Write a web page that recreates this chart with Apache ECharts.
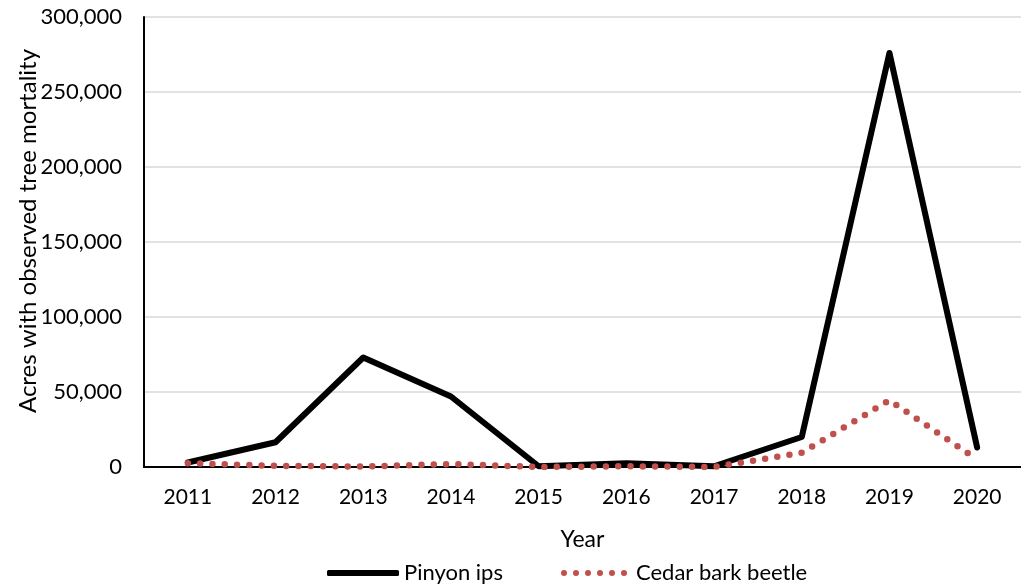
<!DOCTYPE html>
<html>
<head>
<meta charset="utf-8">
<script src="https://cdn.jsdelivr.net/npm/echarts@6/dist/echarts.min.js"></script>
<style>
  html, body { margin: 0; padding: 0; background: #fff; }
  #main { width: 1021px; height: 588px; }
</style>
</head>
<body>
<div id="main"></div>
<script>
// data
var years = ['2011', '2012', '2013', '2014', '2015', '2016', '2017', '2018', '2019', '2020'];
var pinyonIps = [3000, 16500, 73000, 47000, 500, 2500, 500, 20000, 276000, 13000];
var cedarBarkBeetle = [2500, 800, 300, 2000, 0, 500, 0, 9500, 44500, 5000];
var yTicks = [0, 50000, 100000, 150000, 200000, 250000, 300000];

var font = 'Lato';
var red = '#c0504d';

// six round dots for the dotted legend key
var dotsPath = 'path://';
for (var i = 0; i < 6; i++) {
  dotsPath += 'M' + (12 * i) + ',3a3,3 0 1,0 6,0a3,3 0 1,0 -6,0Z';
}

var myChart = echarts.init(document.getElementById('main'));
var option = {
  animation: false,
  textStyle: { fontFamily: font },
  grid: { left: 144, width: 883, top: 17, bottom: 121 },
  legend: [
    {
      top: 557,
      left: 322,
      itemWidth: 72,
      itemHeight: 6,
      icon: 'roundRect',
      textStyle: { fontSize: 22, color: '#000', fontFamily: font },
      data: ['Pinyon ips']
    },
    {
      top: 557,
      left: 556,
      itemWidth: 66,
      itemHeight: 6,
      icon: dotsPath,
      textStyle: { fontSize: 22, color: '#000', fontFamily: font, padding: [0, 0, 0, 4] },
      data: ['Cedar bark beetle']
    }
  ],
  graphic: [
    {
      type: 'text',
      x: 28, y: 231,
      rotation: Math.PI / 2,
      style: {
        text: 'Acres with observed tree mortality',
        fontSize: 24, fontFamily: font, fill: '#000',
        align: 'center', verticalAlign: 'middle'
      }
    }
  ],
  xAxis: {
    type: 'category',
    data: years,
    name: 'Year',
    nameLocation: 'middle',
    nameGap: 61,
    nameTextStyle: { fontSize: 23, color: '#000' },
    axisLine: { lineStyle: { color: '#000', width: 2 } },
    axisTick: { show: false },
    axisLabel: { fontSize: 21, color: '#000', margin: 20 }
  },
  yAxis: {
    type: 'value',
    min: yTicks[0],
    max: yTicks[yTicks.length - 1],
    interval: 50000,
    axisLine: { show: true, lineStyle: { color: '#000', width: 2 } },
    axisTick: { show: false },
    splitLine: { lineStyle: { color: '#d9d9d9', width: 1.5 } },
    axisLabel: {
      fontSize: 22, color: '#000', margin: 22,
      formatter: function (v) { return v.toLocaleString('en-US'); }
    }
  },
  series: [
    {
      name: 'Pinyon ips',
      type: 'line',
      data: pinyonIps,
      symbol: 'none',
      itemStyle: { color: '#000' },
      lineStyle: { color: '#000', width: 6, join: 'round', cap: 'round' }
    },
    {
      name: 'Cedar bark beetle',
      type: 'line',
      data: cedarBarkBeetle,
      symbol: 'none',
      itemStyle: { color: red },
      lineStyle: { color: red, width: 6.5, type: [0, 12.3], cap: 'round' }
    }
  ]
};
myChart.setOption(option);
</script>
</body>
</html>
